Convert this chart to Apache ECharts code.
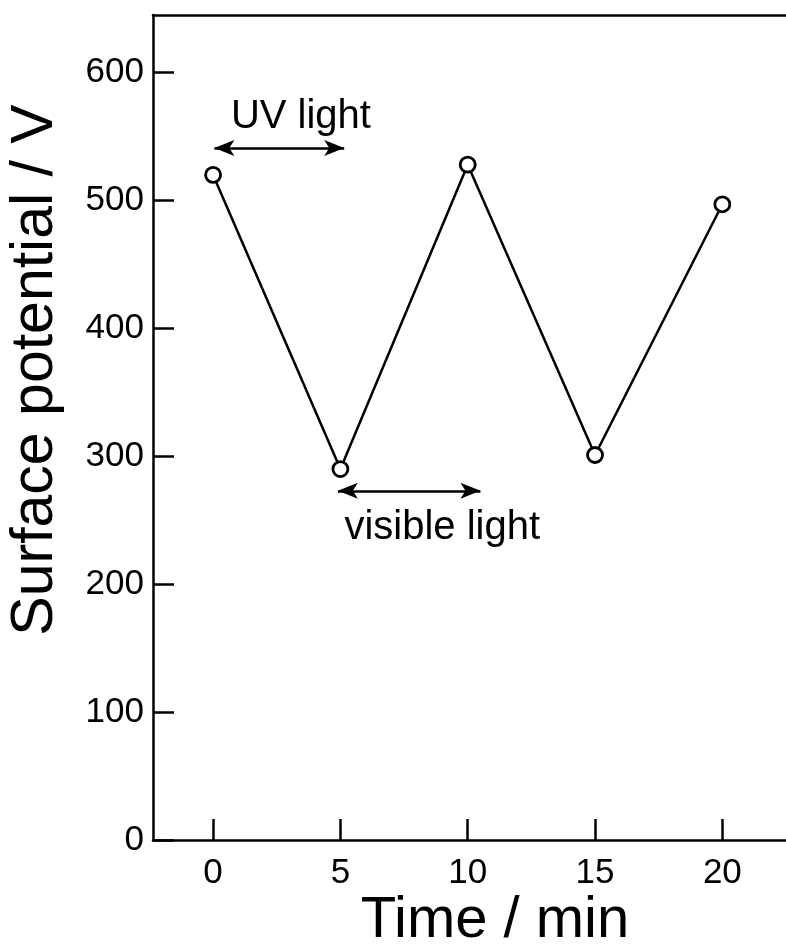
<!DOCTYPE html>
<html>
<head>
<meta charset="utf-8">
<script src="https://cdn.jsdelivr.net/npm/echarts@6/dist/echarts.min.js"></script>
<style>
  html, body { margin: 0; padding: 0; background: #fff; }
  #chart { width: 786px; height: 952px; }
</style>
</head>
<body>
<div id="chart"></div>
<script>
// Surface potential measured every 5 min under alternating UV / visible illumination
const timeMin = [0, 5, 10, 15, 20];
const potentialV = [520, 290, 528, 301, 497];
const xTicks = [0, 5, 10, 15, 20];
const yTicks = [0, 100, 200, 300, 400, 500, 600];

// Double-headed arrows marking the illumination intervals: [x0, x1, y]
const uvArrow = [0.05, 5.15, 541];
const visibleArrow = [4.9, 10.5, 273];
const uvLabel = 'UV light';
const visibleLabel = 'visible light';

const narrow = '"Liberation Sans Narrow", "Liberation Sans", Arial, sans-serif';
const sans = '"Liberation Sans", Arial, sans-serif';

const chart = echarts.init(document.getElementById('chart'));

const gridLeft = 153, gridTop = 15, gridHeight = 825, gridWidth = 642;
const xMin = -2.36, xMax = 22.5, yMin = 0, yMax = 645;

const axisLine = { show: true, onZero: false, lineStyle: { color: '#000', width: 2.5 } };

chart.setOption({
  animation: false,
  backgroundColor: '#fff',
  grid: { left: gridLeft, top: gridTop, width: gridWidth, height: gridHeight },
  xAxis: [
    {
      type: 'value', min: xMin, max: xMax,
      axisLine: axisLine,
      axisTick: {
        show: true, inside: true, length: 21,
        lineStyle: { color: '#000', width: 2.5 },
        customValues: xTicks
      },
      axisLabel: {
        color: '#000', fontFamily: narrow, fontSize: 35, margin: 16,
        customValues: xTicks
      },
      splitLine: { show: false }
    },
    {
      type: 'value', position: 'top', min: xMin, max: xMax,
      axisLine: axisLine,
      axisTick: { show: false }, axisLabel: { show: false }, splitLine: { show: false }
    }
  ],
  yAxis: {
    type: 'value', min: yMin, max: yMax,
    axisLine: axisLine,
    axisTick: {
      show: true, inside: true, length: 21,
      lineStyle: { color: '#000', width: 2.5 },
      customValues: yTicks
    },
    axisLabel: {
      color: '#000', fontFamily: narrow, fontSize: 35, margin: 9,
      customValues: yTicks
    },
    splitLine: { show: false }
  },
  series: [{
    type: 'line',
    data: timeMin.map((t, i) => [t, potentialV[i]]),
    symbol: 'circle',
    symbolSize: 15,
    showAllSymbol: true,
    lineStyle: { color: '#000', width: 2.5 },
    itemStyle: { color: '#fff', borderColor: '#000', borderWidth: 2.8 },
    z: 3,
    markLine: {
      silent: true,
      symbol: ['arrow', 'arrow'],
      symbolSize: [12, 20],
      label: { show: false },
      lineStyle: { color: '#000', width: 2.5, type: 'solid' },
      itemStyle: { color: '#000' },
      data: [
        [{ coord: [uvArrow[0], uvArrow[2]] }, { coord: [uvArrow[1], uvArrow[2]] }],
        [{ coord: [visibleArrow[0], visibleArrow[2]] }, { coord: [visibleArrow[1], visibleArrow[2]] }]
      ]
    }
  }]
});

// Annotation labels and axis titles placed relative to the data scale
function px(x, y) { return chart.convertToPixel({ gridIndex: 0 }, [x, y]); }
const uvPos = px((uvArrow[0] + uvArrow[1]) / 2 + 0.85, uvArrow[2]);
const visPos = px((visibleArrow[0] + visibleArrow[1]) / 2 + 1.3, visibleArrow[2]);

chart.setOption({
  graphic: [
    {
      type: 'text', x: uvPos[0], y: uvPos[1] - 31,
      style: { text: uvLabel, font: '40px ' + narrow, fill: '#000', align: 'center', verticalAlign: 'middle' }
    },
    {
      type: 'text', x: visPos[0], y: visPos[1] + 37,
      style: { text: visibleLabel, font: '40px ' + narrow, fill: '#000', align: 'center', verticalAlign: 'middle' }
    },
    {
      type: 'text', x: 495, y: 921,
      style: { text: 'Time / min', font: '58px ' + sans, fill: '#000', align: 'center', verticalAlign: 'middle' }
    },
    {
      type: 'text', x: 36, y: 370, rotation: Math.PI / 2,
      style: { text: 'Surface potential / V', font: '59px ' + sans, fill: '#000', align: 'center', verticalAlign: 'middle' }
    }
  ]
});
</script>
</body>
</html>
